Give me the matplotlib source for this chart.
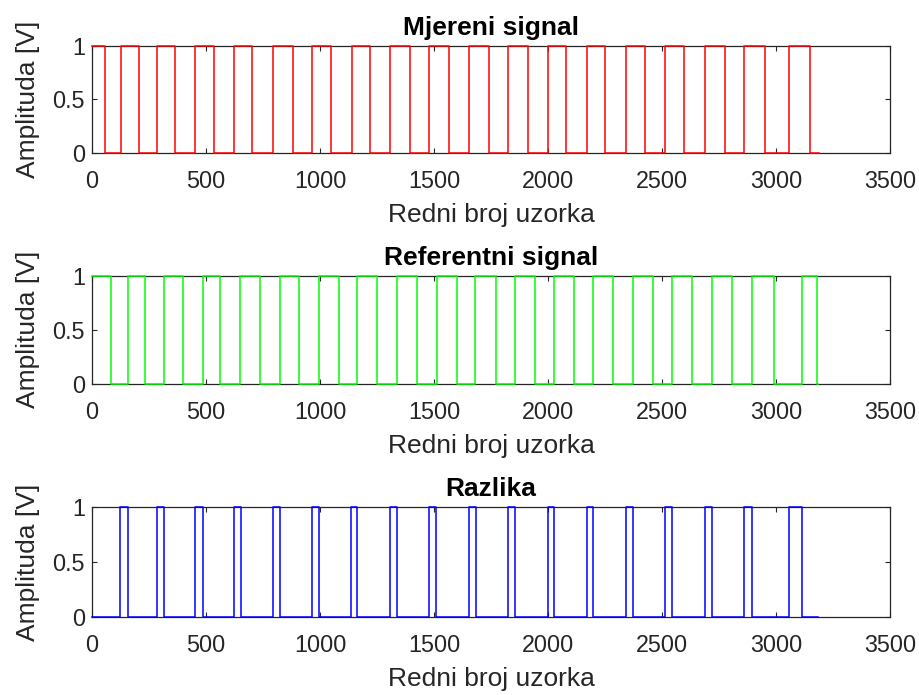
import numpy as np
import matplotlib
matplotlib.use('Agg')
from matplotlib import pyplot as plt

plt.rcParams['font.family'] = ['Liberation Sans', 'DejaVu Sans']

# transition samples of each square wave (level toggles at every edge)
mjereni_start = 1
mjereni_edges = [55, 125, 204, 285, 364, 453, 534, 623, 702, 793, 880, 964,
                 1049, 1140, 1219, 1307, 1394, 1478, 1566, 1653, 1741, 1826,
                 1913, 2000, 2080, 2169, 2252, 2340, 2424, 2512, 2598, 2687,
                 2775, 2861, 2953, 3057, 3149]
mjereni_end = 3188

referentni_start = 1
referentni_edges = [84, 157, 234, 315, 398, 485, 563, 650, 738, 826, 909, 996,
                    1084, 1164, 1252, 1339, 1424, 1512, 1600, 1680, 1770, 1855,
                    1943, 2026, 2113, 2198, 2286, 2372, 2459, 2544, 2632, 2719,
                    2807, 2894, 2993, 3115, 3182]
referentni_end = 3184

razlika_start = 0
razlika_edges = [123, 157, 284, 315, 453, 485, 621, 653, 792, 824, 964, 996,
                 1135, 1164, 1307, 1339, 1478, 1510, 1653, 1683, 1826, 1855,
                 2000, 2026, 2169, 2198, 2340, 2372, 2512, 2544, 2687, 2719,
                 2861, 2894, 3057, 3113]
razlika_end = 3184

titles = ['Mjereni signal', 'Referentni signal', 'Razlika']
colors = ['#ff0000', '#00ff00', '#0000ff']
xticks = [0, 500, 1000, 1500, 2000, 2500, 3000, 3500]
yticks = [0, 0.5, 1]
ytick_labels = ['0', '0.5', '1']


def square_wave(start, edges, end):
    x = np.concatenate(([0], edges, [end]))
    lv = (start + np.arange(len(edges) + 1)) % 2
    y = np.concatenate((lv, [lv[-1]]))
    return x, y


signals = [square_wave(mjereni_start, mjereni_edges, mjereni_end),
           square_wave(referentni_start, referentni_edges, referentni_end),
           square_wave(razlika_start, razlika_edges, razlika_end)]

W, H = 919, 695
fig = plt.figure(figsize=(W / 100, H / 100), dpi=100)
boxes = [(45.7, 152.5), (275.7, 384.0), (507.3, 616.7)]
left, right = 92.0, 890.0
axc = '#262626'

for (top, bot), (x, y), title, col in zip(boxes, signals, titles, colors):
    ax = fig.add_axes([left / W, 1 - bot / H, (right - left) / W, (bot - top) / H])
    # drawn over the box so the 0 and 1 levels stay visible on the spines
    ax.step(x, y, where='post', color=col, lw=1.1, zorder=3, clip_on=False)
    ax.set_xlim(0, 3500)
    ax.set_ylim(0, 1)
    ax.set_xticks(xticks)
    ax.set_yticks(yticks)
    ax.set_yticklabels(ytick_labels)
    ax.tick_params(direction='in', top=True, right=True, length=3.5, width=0.8,
                   colors=axc, labelsize=16.8, labelcolor=axc)
    ax.tick_params(axis='x', pad=12.5)
    ax.tick_params(axis='y', pad=5)
    for s in ax.spines.values():
        s.set_color(axc)
        s.set_linewidth(0.9)
    ax.set_title(title, fontsize=19, fontweight='bold', pad=8, color='black')
    ax.set_xlabel('Redni broj uzorka', fontsize=19, color=axc, labelpad=7)
    ax.set_ylabel('Amplituda [V]', fontsize=19, color=axc, labelpad=9)

fig.savefig('out.png', dpi=100, facecolor='white')
